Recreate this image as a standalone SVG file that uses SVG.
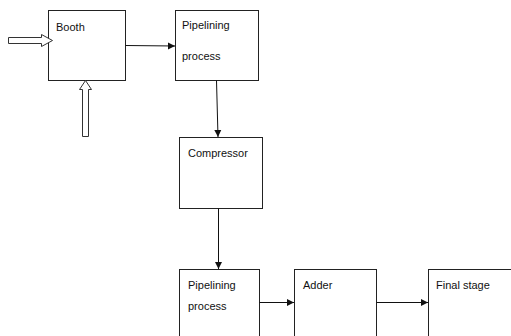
<svg xmlns="http://www.w3.org/2000/svg" width="511" height="336" viewBox="0 0 511 336">
<style>
.box{fill:#fff;stroke:#222;stroke-width:1}
.t{font-family:"Liberation Sans",Arial,sans-serif;font-size:11px;fill:#111}
.c{stroke:#111;stroke-width:1;fill:none}
.hollow{fill:#fff;stroke:#333;stroke-width:1}
</style>
<defs>
<marker id="ah" markerWidth="8" markerHeight="8" refX="7" refY="4" orient="auto" markerUnits="userSpaceOnUse">
<path d="M0,0.5 L7,4 L0,7.5 Z" fill="#111"/>
</marker>
</defs>
<rect width="511" height="336" fill="#fff"/>
<g id="booth"><rect class="box" x="48.5" y="10.5" width="77" height="70"/><text class="t" x="56" y="31">Booth</text></g>
<g id="pipelining1"><rect class="box" x="175.5" y="10.5" width="83" height="70"/><text class="t" x="182" y="29">Pipelining</text><text class="t" x="182" y="60">process</text></g>
<g id="compressor"><rect class="box" x="179.5" y="137.5" width="83" height="71"/><text class="t" x="188" y="157">Compressor</text></g>
<g id="pipelining2"><rect class="box" x="179.5" y="269.5" width="80" height="80"/><text class="t" x="188" y="289">Pipelining</text><text class="t" x="188" y="310">process</text></g>
<g id="adder"><rect class="box" x="294.5" y="269.5" width="82" height="80"/><text class="t" x="303" y="289">Adder</text></g>
<g id="final"><rect class="box" x="428.5" y="269.5" width="100" height="80"/><text class="t" x="436" y="289">Final stage</text></g>
<g id="connectors">
<path class="c" d="M125.5,45.5 L175,46" marker-end="url(#ah)"/>
<path class="c" d="M216.5,80.5 L218,137" marker-end="url(#ah)"/>
<path class="c" d="M218.5,208.5 L218.5,269" marker-end="url(#ah)"/>
<path class="c" d="M259.5,302.5 L294,302.5" marker-end="url(#ah)"/>
<path class="c" d="M376.5,302.5 L428,302.5" marker-end="url(#ah)"/>
<polygon class="hollow" points="8.5,37.5 41.5,37.5 41.5,34.5 52.5,40.5 41.5,46.5 41.5,43.5 8.5,43.5"/>
<polygon class="hollow" points="82.5,136.5 82.5,89.5 79.5,89.5 85.5,80.5 91.5,89.5 88.5,89.5 88.5,136.5"/>
</g>
</svg>
